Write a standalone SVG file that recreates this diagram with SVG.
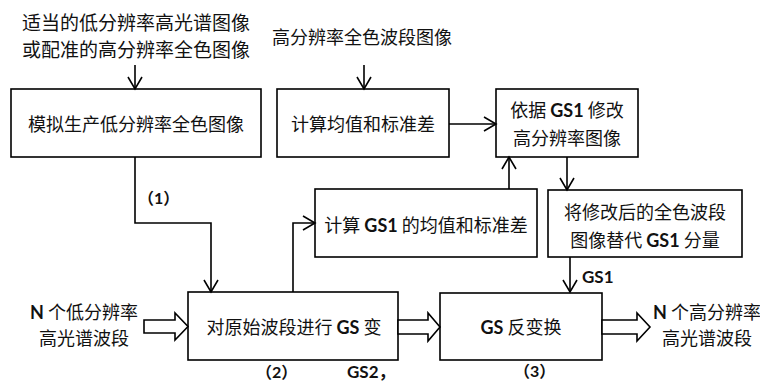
<svg xmlns="http://www.w3.org/2000/svg" width="760" height="383" viewBox="0 0 760 383">
<defs>
<marker id="ah" markerUnits="userSpaceOnUse" markerWidth="14" markerHeight="16" refX="12" refY="7" orient="auto" overflow="visible">
<path d="M0,0 L12,7 L0,14" fill="none" stroke="#000" stroke-width="1.6"/>
</marker>
<style>
.box{fill:#fff;stroke:#000;stroke-width:1.6}
.ln{fill:none;stroke:#000;stroke-width:1.6;marker-end:url(#ah)}
.ha{fill:#fff;stroke:#000;stroke-width:1.6}
text{font-family:"Noto Sans CJK SC","Noto Sans",sans-serif;font-size:18px;fill:#111}
.c{text-anchor:middle}
.b{font-family:Lato,"Noto Sans CJK SC",sans-serif;font-weight:bold}
.bb{font-weight:bold}
</style>
</defs>
<g id="labels">
<text x="22" y="30" style="font-size:19px">适当的低分辨率高光谱图像</text>
<text x="22" y="57" style="font-size:19px">或配准的高分辨率全色图像</text>
<text x="362" y="44" class="c">高分辨率全色波段图像</text>
<text x="84" y="319" class="c"><tspan class="b">N</tspan> 个低分辨率</text>
<text x="84" y="345" class="c">高光谱波段</text>
<text x="653" y="319"><tspan class="b">N</tspan> 个高分辨率</text>
<text x="662" y="345">高光谱波段</text>
<text x="138" y="204" class="bb" style="font-size:16px">（<tspan class="b">1</tspan>）</text>
<text x="582" y="283" class="b" style="font-size:17px">GS1</text>
<text x="256" y="378" class="bb" style="font-size:16px">（<tspan class="b">2</tspan>）</text>
<text x="347" y="378" class="b" style="font-size:17px">GS2，</text>
<text x="514" y="377" class="bb" style="font-size:16px">（<tspan class="b">3</tspan>）</text>
</g>
<g id="n1">
<rect class="box" x="11" y="89" width="250" height="68"/>
<text x="136" y="131" class="c">模拟生产低分辨率全色图像</text>
</g>
<g id="n2">
<rect class="box" x="277" y="89" width="172" height="68"/>
<text x="363" y="131" class="c">计算均值和标准差</text>
</g>
<g id="n3">
<rect class="box" x="496" y="89" width="142" height="68"/>
<text x="567" y="117" class="c">依据 <tspan class="b">GS1</tspan> 修改</text>
<text x="567" y="145" class="c">高分辨率图像</text>
</g>
<g id="n4">
<rect class="box" x="315" y="189" width="222" height="68"/>
<text x="426" y="232" class="c">计算 <tspan class="b">GS1</tspan> 的均值和标准差</text>
</g>
<g id="n5">
<rect class="box" x="548" y="190" width="194" height="67"/>
<text x="645" y="219" class="c">将修改后的全色波段</text>
<text x="645" y="247" class="c">图像替代 <tspan class="b">GS1</tspan> 分量</text>
</g>
<g id="n6">
<rect class="box" x="188" y="292" width="210" height="68"/>
<text x="294" y="334" class="c">对原始波段进行 <tspan class="b">GS</tspan> 变</text>
</g>
<g id="n7">
<rect class="box" x="440" y="293" width="162" height="67"/>
<text x="521" y="334" class="c"><tspan class="b">GS</tspan> 反变换</text>
</g>
<g id="connectors">
<line class="ln" x1="135" y1="65" x2="135" y2="89"/>
<line class="ln" x1="364" y1="65" x2="364" y2="89"/>
<line class="ln" x1="449" y1="124" x2="496" y2="124"/>
<line class="ln" x1="509" y1="189" x2="509" y2="157"/>
<line class="ln" x1="567" y1="157" x2="567" y2="190"/>
<line class="ln" x1="570" y1="257" x2="570" y2="292"/>
<polyline class="ln" points="135,157 135,223 211,223 211,292"/>
<polyline class="ln" points="293,292 293,223 315,223"/>
<polygon class="ha" points="144,320 175,320 175,313 188,326.5 175,340 175,333 144,333"/>
<polygon class="ha" points="398,320 428,320 428,313 440,327 428,341 428,334 398,334"/>
<polygon class="ha" points="602,320 637,320 637,313 650,327 637,341 637,334 602,334"/>
</g>
</svg>
